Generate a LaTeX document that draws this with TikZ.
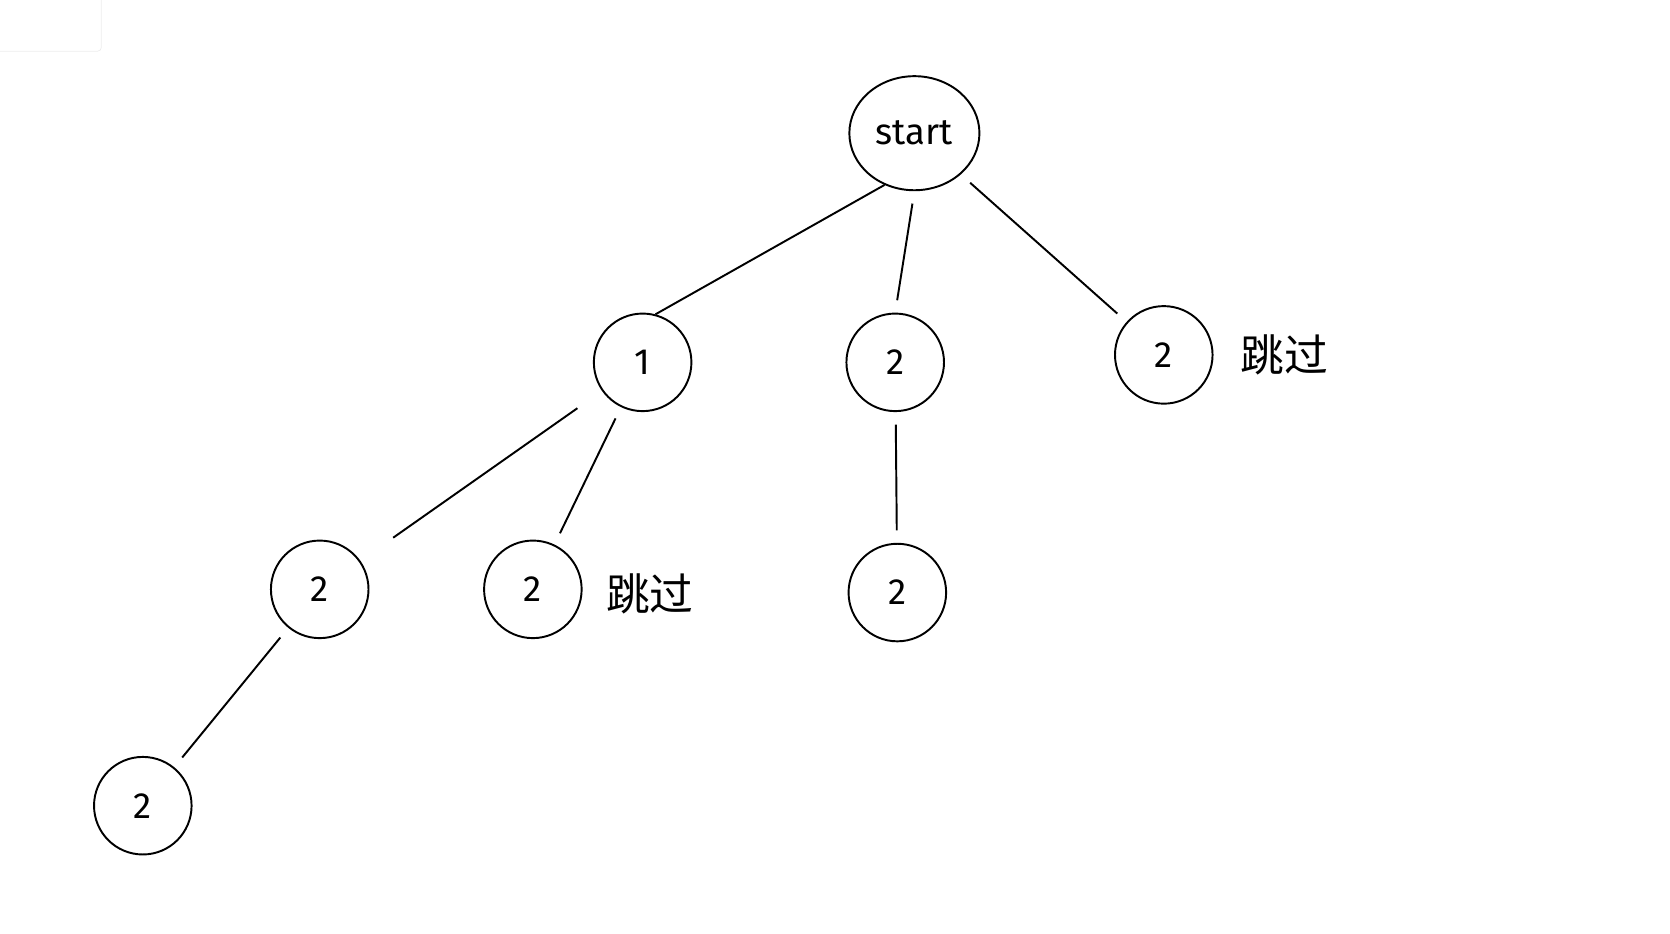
\documentclass[tikz,border=0pt]{standalone}
\usepackage{fontspec}
\setmainfont{Fira Sans}
\newfontfamily\cjk{Noto Sans CJK SC}
\usetikzlibrary{shapes.geometric, positioning, calc}

\tikzset{
  knot/.style={circle, draw, line width=1.1pt, minimum size=1.95cm, inner sep=0pt, font=\huge},
  edge/.style={line width=1.1pt, shorten <=0.25cm, shorten >=0.25cm},
  skip/.style={font=\cjk\Huge, anchor=west}
}

\begin{document}
\begin{tikzpicture}[x=0.0213cm, y=-0.0213cm]
    % Khung
    \useasboundingbox (0,0) rectangle (1567,876);
    \draw[gray!15, rounded corners=2pt] (-5,-5) rectangle (95,48);

    % Các nút
    \node[knot, ellipse, minimum width=2.6cm, minimum height=2.28cm] (start) at (858,125) {start};
    \node[knot] (a) at (603,340) {1};
    \node[knot] (b) at (840,340) {2};
    \node[knot] (c) at (1092,333) {2};
    \node[knot] (d) at (300,553) {2};
    \node[knot] (e) at (500,553) {2};
    \node[knot] (f) at (842,556) {2};
    \node[knot] (g) at (134,756) {2};

    % Nhãn
    \node[skip] (sc) at (1158,333) {跳过};
    \node[skip] (se) at (563,557) {跳过};

    % Các cạnh
    \draw[line width=1.1pt] (start.240) -- (a.75);
    \draw[edge] (start.south) -- (b.north);
    \draw[edge] (start) -- (c);
    \draw[edge, shorten <=0.6cm, shorten >=0.8cm] (a) -- (d);
    \draw[edge] (a) -- (e);
    \draw[edge] (b) -- (f);
    \draw[edge] (d) -- (g);
\end{tikzpicture}
\end{document}
